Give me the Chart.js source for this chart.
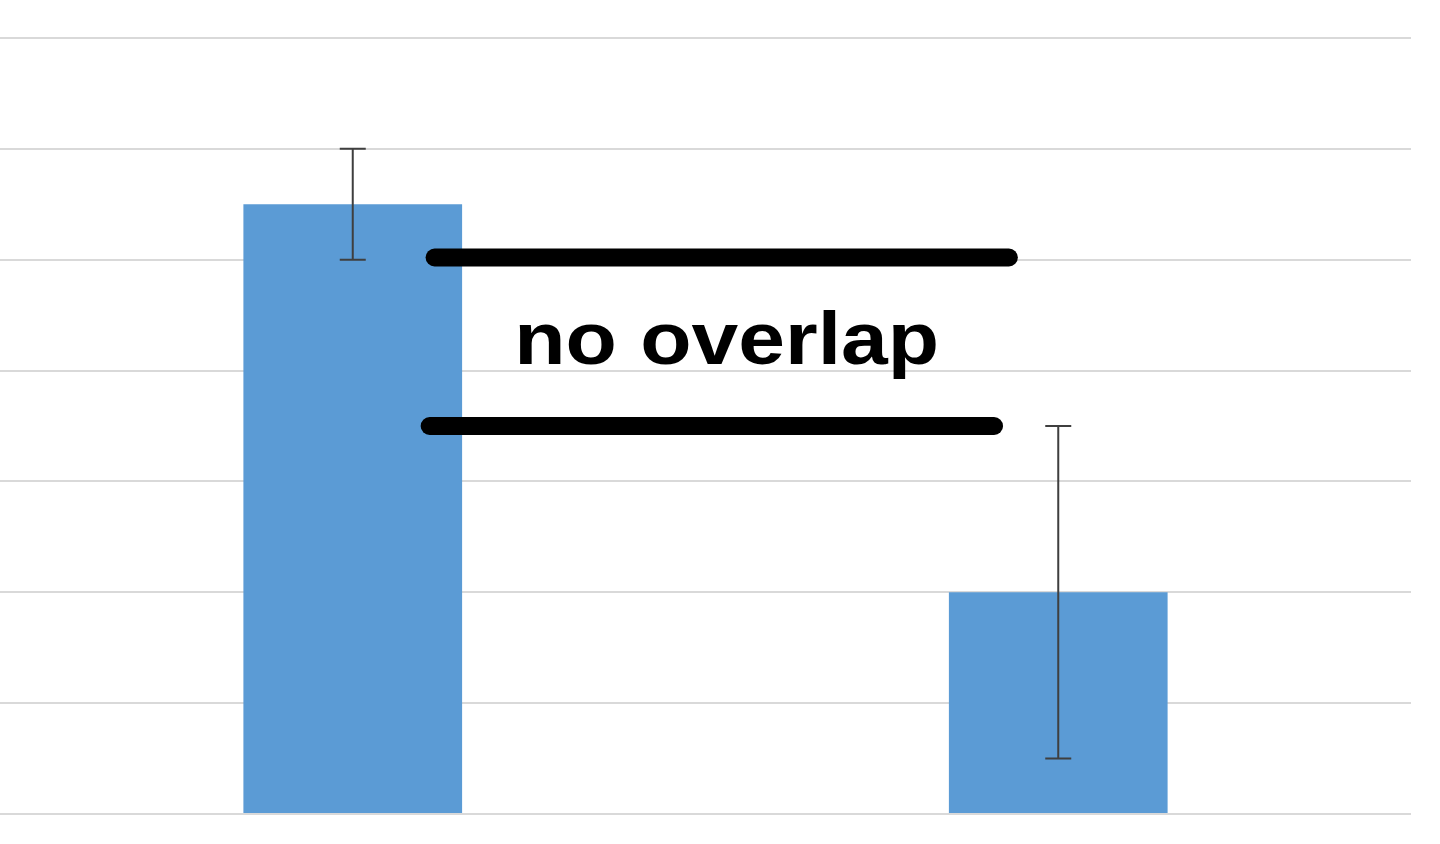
<!DOCTYPE html>
<html>
<head>
<meta charset="utf-8">
<script src="https://cdn.jsdelivr.net/npm/chart.js@4"></script>
<style>
  html, body { margin: 0; padding: 0; background: #fff; }
  #wrap { width: 1440px; height: 844px; }
</style>
</head>
<body>
<div id="wrap"><canvas id="chart"></canvas></div>
<script>
// chart values
const categories = ["A", "B"];
const means = [5.5, 2.0];
const errLow = [0.5, 1.5];
const errHigh = [0.5, 1.5];
const yTicks = [0, 1, 2, 3, 4, 5, 6, 7];

// annotation bars: [x start (category units), x end, y value]
const markLines = [
  [0.116, 0.93, 5.02],
  [0.109, 0.909, 3.5]
];
const markLabel = "no overlap";
const markLabelPos = [0.53, 4.06]; // baseline of the label

// error bars + annotation drawn through the scales
const errorBars = {
  id: "errorBars",
  afterDatasetsDraw(c) {
    const { ctx, scales: { x, y } } = c;
    const meta = c.getDatasetMeta(0);
    ctx.save();
    ctx.strokeStyle = "#3f3f3f";
    ctx.lineWidth = 2;
    meta.data.forEach((bar, i) => {
      const cx = bar.x;
      const top = y.getPixelForValue(means[i] + errHigh[i]);
      const bot = y.getPixelForValue(means[i] - errLow[i]);
      ctx.beginPath();
      ctx.moveTo(cx, top); ctx.lineTo(cx, bot);
      ctx.moveTo(cx - 13, top); ctx.lineTo(cx + 13, top);
      ctx.moveTo(cx - 13, bot); ctx.lineTo(cx + 13, bot);
      ctx.stroke();
    });

    ctx.strokeStyle = "#000";
    ctx.lineWidth = 18;
    ctx.lineCap = "round";
    markLines.forEach(([x0, x1, v]) => {
      const py = y.getPixelForValue(v);
      ctx.beginPath();
      ctx.moveTo(x.getPixelForValue(x0), py);
      ctx.lineTo(x.getPixelForValue(x1), py);
      ctx.stroke();
    });

    // label is a bit wider than plain bold Arial in the original
    ctx.translate(x.getPixelForValue(markLabelPos[0]), y.getPixelForValue(markLabelPos[1]));
    ctx.scale(1.12, 1);
    ctx.fillStyle = "#000";
    ctx.font = "bold 75px 'Liberation Sans', Arial, sans-serif";
    ctx.textAlign = "center";
    ctx.textBaseline = "alphabetic";
    ctx.fillText(markLabel, 0, 0);
    ctx.restore();
  }
};

new Chart(document.getElementById("chart"), {
  type: "bar",
  data: {
    labels: categories,
    datasets: [{
      data: means,
      backgroundColor: "#5b9bd5",
      borderWidth: 0,
      barPercentage: 0.62,
      categoryPercentage: 0.5
    }]
  },
  options: {
    responsive: true,
    maintainAspectRatio: false,
    animation: false,
    layout: { padding: { top: 38, bottom: 30, left: 0, right: 29 } },
    plugins: { legend: { display: false }, tooltip: { enabled: false } },
    scales: {
      x: {
        display: true,
        grid: { display: false, drawTicks: false },
        border: { display: false },
        ticks: { display: false }
      },
      y: {
        min: yTicks[0],
        max: yTicks[yTicks.length - 1],
        afterBuildTicks: ax => { ax.ticks = yTicks.map(v => ({ value: v })); },
        grid: { color: "#d9d9d9", lineWidth: 2, drawTicks: false },
        border: { display: false },
        ticks: { display: false }
      }
    }
  },
  plugins: [errorBars]
});
</script>
</body>
</html>
